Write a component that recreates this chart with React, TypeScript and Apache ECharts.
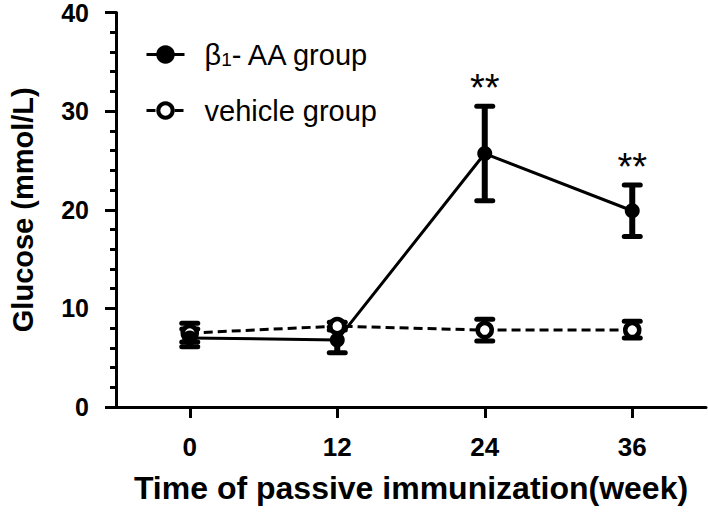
import React, { useEffect, useRef } from "react";
import * as echarts from "echarts";

const weeks = [0, 12, 24, 36];
const aaMean = [7.0, 6.8, 25.7, 19.9];
const aaLow = [6.1, 5.5, 20.9, 17.3];
const aaHigh = [7.9, 8.1, 30.5, 22.5];
const vehMean = [7.5, 8.2, 7.8, 7.8];
const vehLow = [6.6, 7.8, 6.7, 7.0];
const vehHigh = [8.5, 8.6, 8.9, 8.7];
const aaSig = ["", "", "**", "**"];
const xTicks = [0, 12, 24, 36];

const AA_NAME = "β1- AA group";
const VEH_NAME = "vehicle group";
const FONT = "'Liberation Sans', Arial, Helvetica, sans-serif";

function makeErrorRender(sig?: string[]) {
  return (params: any, api: any) => {
    const x = api.value(0);
    const lo = api.value(1);
    const hi = api.value(2);
    const pLo = api.coord([x, lo]);
    const pHi = api.coord([x, hi]);
    const half = 8;
    const capStyle = { stroke: "#000", lineWidth: 5, lineCap: "round" };
    const children: any[] = [
      { type: "line", shape: { x1: pHi[0], y1: pHi[1], x2: pLo[0], y2: pLo[1] }, style: { stroke: "#000", lineWidth: 6 } },
      { type: "line", shape: { x1: pHi[0] - half, y1: pHi[1], x2: pHi[0] + half, y2: pHi[1] }, style: capStyle },
      { type: "line", shape: { x1: pLo[0] - half, y1: pLo[1], x2: pLo[0] + half, y2: pLo[1] }, style: capStyle },
    ];
    const s = sig ? sig[params.dataIndex] : "";
    if (s) {
      children.push({
        type: "text",
        x: pHi[0],
        y: pHi[1] - 18,
        style: { text: s, fontSize: 38, fontFamily: FONT, fill: "#000", align: "center", verticalAlign: "middle" },
      });
    }
    return { type: "group", children };
  };
}

export default function App() {
  const ref = useRef<HTMLDivElement>(null);
  useEffect(() => {
    if (!ref.current) return;
    const chart = echarts.init(ref.current, undefined, { renderer: "svg" });
    const aaLine = weeks.map((w, i) => [w, aaMean[i]]);
    const vehLine = weeks.map((w, i) => [w, vehMean[i]]);
    const aaErr = weeks.map((w, i) => [w, aaLow[i], aaHigh[i]]);
    const vehErr = weeks.map((w, i) => [w, vehLow[i], vehHigh[i]]);
    chart.setOption({
      animation: false,
      backgroundColor: "#fff",
      textStyle: { fontFamily: FONT },
      grid: { left: 110, right: 2, top: 12, bottom: 106, containLabel: false },
      legend: {
        left: 145,
        top: 40,
        padding: 0,
        orient: "vertical",
        itemWidth: 38,
        itemHeight: 18,
        itemGap: 27,
        data: [AA_NAME, VEH_NAME],
        lineStyle: { width: 3 },
        itemStyle: { borderWidth: 4 },
        formatter: (name: string) => (name === AA_NAME ? "{n|β}{s|1}{n|- AA group}" : "{n|vehicle group}"),
        textStyle: {
          color: "#000",
          fontSize: 29,
          fontFamily: FONT,
          padding: [0, 0, 0, 15],
          rich: {
            n: { fontSize: 29, fontFamily: FONT, color: "#000" },
            s: { fontSize: 19, fontFamily: FONT, color: "#000", verticalAlign: "bottom", lineHeight: 12 },
          },
        },
      },
      xAxis: {
        type: "value",
        min: -6,
        max: 42,
        name: "Time of passive immunization(week)",
        nameLocation: "middle",
        nameGap: 65,
        nameTextStyle: { fontSize: 32, fontWeight: "bold", color: "#000", fontFamily: FONT },
        axisLine: { show: true, onZero: false, lineStyle: { color: "#000", width: 3 } },
        axisTick: { show: true, customValues: xTicks, length: 11, lineStyle: { color: "#000", width: 3 } },
        axisLabel: { customValues: xTicks, fontSize: 26, fontWeight: "bold", color: "#000", margin: 27, fontFamily: FONT },
        splitLine: { show: false },
      },
      yAxis: {
        type: "value",
        min: 0,
        max: 40,
        interval: 10,
        name: "Glucose (mmol/L)",
        nameLocation: "middle",
        nameGap: 79,
        nameTextStyle: { fontSize: 29, fontWeight: "bold", color: "#000", fontFamily: FONT },
        axisLine: { show: true, onZero: false, lineStyle: { color: "#000", width: 3 } },
        axisTick: { show: true, length: 11, lineStyle: { color: "#000", width: 3 } },
        minorTick: { show: true, splitNumber: 5, length: 6, lineStyle: { color: "#000", width: 3 } },
        axisLabel: { fontSize: 25, fontWeight: "bold", color: "#000", margin: 27, fontFamily: FONT },
        splitLine: { show: false },
      },
      series: [
        {
          type: "custom",
          name: "aaErr",
          renderItem: makeErrorRender(aaSig),
          data: aaErr,
          z: 1,
          encode: { x: 0, y: [1, 2] },
          silent: true,
        },
        {
          type: "custom",
          name: "vehErr",
          renderItem: makeErrorRender(),
          data: vehErr,
          z: 1,
          encode: { x: 0, y: [1, 2] },
          silent: true,
        },
        {
          type: "line",
          name: VEH_NAME,
          data: vehLine,
          z: 3,
          symbol: "circle",
          symbolSize: 14,
          showSymbol: true,
          lineStyle: { color: "#000", width: 3, type: [9, 5] },
          itemStyle: { color: "#fff", borderColor: "#000", borderWidth: 4.5 },
        },
        {
          type: "line",
          name: AA_NAME,
          data: aaLine,
          z: 4,
          symbol: "circle",
          symbolSize: 15,
          showSymbol: true,
          lineStyle: { color: "#000", width: 3 },
          itemStyle: { color: "#000", borderColor: "#000", borderWidth: 0 },
        },
      ],
    });
    return () => chart.dispose();
  }, []);
  return <div ref={ref} style={{ width: 708, height: 513, position: "absolute", left: 0, top: 0 }} />;
}
